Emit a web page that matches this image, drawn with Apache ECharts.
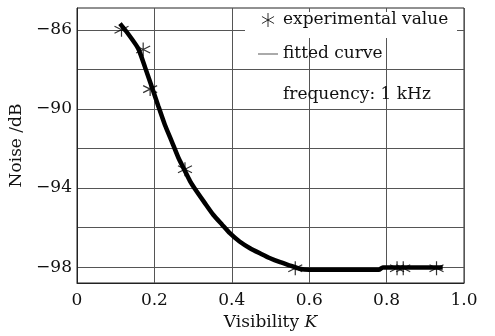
<!DOCTYPE html>
<html>
<head>
<meta charset="utf-8">
<script src="https://cdn.jsdelivr.net/npm/echarts@6/dist/echarts.min.js"></script>
<style>
  html, body { margin: 0; padding: 0; background: #fff; }
  #main { width: 495px; height: 336px; }
</style>
</head>
<body>
<div id="main"></div>
<script>
// 实验点 (visibility K, noise dB)
var expK = [0.115, 0.171, 0.189, 0.279, 0.564, 0.827, 0.843, 0.929];
var expNoise = [-86, -87, -89, -93.05, -98.05, -98.05, -98.05, -98.05];

// 拟合曲线
var fitK = [0.111, 0.13, 0.158, 0.175, 0.193, 0.21, 0.227, 0.245, 0.262, 0.278, 0.292, 0.305,
    0.33, 0.352, 0.375, 0.395, 0.42, 0.447, 0.475, 0.499, 0.525, 0.551, 0.575, 0.6, 0.78, 0.79, 0.945];
var fitNoise = [-85.69, -86.15, -86.94, -87.85, -88.87, -89.85, -90.8, -91.65, -92.47, -93.1, -93.65, -94.05,
    -94.75, -95.35, -95.85, -96.28, -96.7, -97.04, -97.32, -97.55, -97.75, -97.92, -98.08, -98.13, -98.13, -98.02, -98.02];

var yGridValues = [-98, -96, -94, -92, -90, -88, -86];
var yLabelValues = [-98, -94, -90, -86];

var FONT = 'DejaVu Serif';
var starPath = 'path://M0,-10L0,10M-8.66,-5L8.66,5M-8.66,5L8.66,-5';

var expData = [];
for (var i = 0; i < expK.length; i++) expData.push([expK[i], expNoise[i]]);
var fitData = [];
for (var j = 0; j < fitK.length; j++) fitData.push([fitK[j], fitNoise[j]]);

var myChart = echarts.init(document.getElementById('main'));
var option = {
    backgroundColor: '#fff',
    animation: false,
    grid: { left: 77, right: 31, top: 8, bottom: 53, show: true, borderColor: '#222', borderWidth: 1 },
    legend: {
        orient: 'vertical',
        left: 253,
        top: 5,
        itemWidth: 20,
        itemHeight: 14,
        itemGap: 14,
        textStyle: { fontFamily: FONT, fontSize: 17, color: '#111', lineHeight: 20 },
        data: [
            { name: 'experimental value', icon: starPath,
              itemStyle: { color: 'rgba(0,0,0,0)', borderColor: '#000', borderWidth: 1 } },
            { name: 'fitted curve', icon: 'path://M0,0L24,0L24,1L0,1Z',
              itemStyle: { color: '#333', borderWidth: 0 } }
        ]
    },
    graphic: [
        { type: 'rect', z: 1, shape: { x: 245, y: 12, width: 212, height: 26 }, style: { fill: '#fff' } },
        { type: 'text', z: 5, left: 283, top: 86,
          style: { text: 'frequency: 1 kHz', font: '17px "DejaVu Serif"', fill: '#111' } }
    ],
    xAxis: {
        type: 'value',
        min: 0, max: 1, interval: 0.2,
        name: '{n|Visibility }{k|K}',
        nameLocation: 'middle',
        nameGap: 30,
        nameTextStyle: {
            rich: {
                n: { fontFamily: FONT, fontSize: 17, color: '#111' },
                k: { fontFamily: FONT, fontSize: 17, fontStyle: 'italic', color: '#111' }
            }
        },
        axisLine: { show: true, lineStyle: { color: '#222', width: 1 } },
        axisTick: { show: false },
        axisLabel: {
            fontFamily: FONT, fontSize: 17, color: '#111', margin: 9,
            formatter: function (v) { return v === 0 ? '0' : v.toFixed(1); }
        },
        splitLine: { show: true, lineStyle: { color: '#555', width: 1 } }
    },
    yAxis: {
        type: 'value',
        min: -98.8, max: -84.9,
        name: 'Noise /dB',
        nameLocation: 'middle',
        nameGap: 50,
        nameTextStyle: { fontFamily: FONT, fontSize: 17, color: '#111' },
        axisLine: { show: true, lineStyle: { color: '#222', width: 1 } },
        axisTick: { show: false, customValues: yGridValues },
        axisLabel: {
            fontFamily: FONT, fontSize: 17, color: '#111', margin: 5,
            customValues: yLabelValues,
            formatter: function (v) { return '\u2212' + Math.abs(v); }
        },
        splitLine: { show: true, lineStyle: { color: '#555', width: 1 } }
    },
    series: [
        {
            name: 'fitted curve',
            type: 'line',
            data: fitData,
            showSymbol: false,
            symbol: 'none',
            smooth: 0.2,
            lineStyle: { color: '#000', width: 4.5 },
            itemStyle: { color: '#000' },
            z: 2
        },
        {
            name: 'experimental value',
            type: 'scatter',
            data: expData,
            symbol: starPath,
            symbolSize: 14,
            itemStyle: { color: 'rgba(0,0,0,0)', borderColor: '#000', borderWidth: 1.2 },
            z: 3
        }
    ]
};
myChart.setOption(option);
</script>
</body>
</html>
